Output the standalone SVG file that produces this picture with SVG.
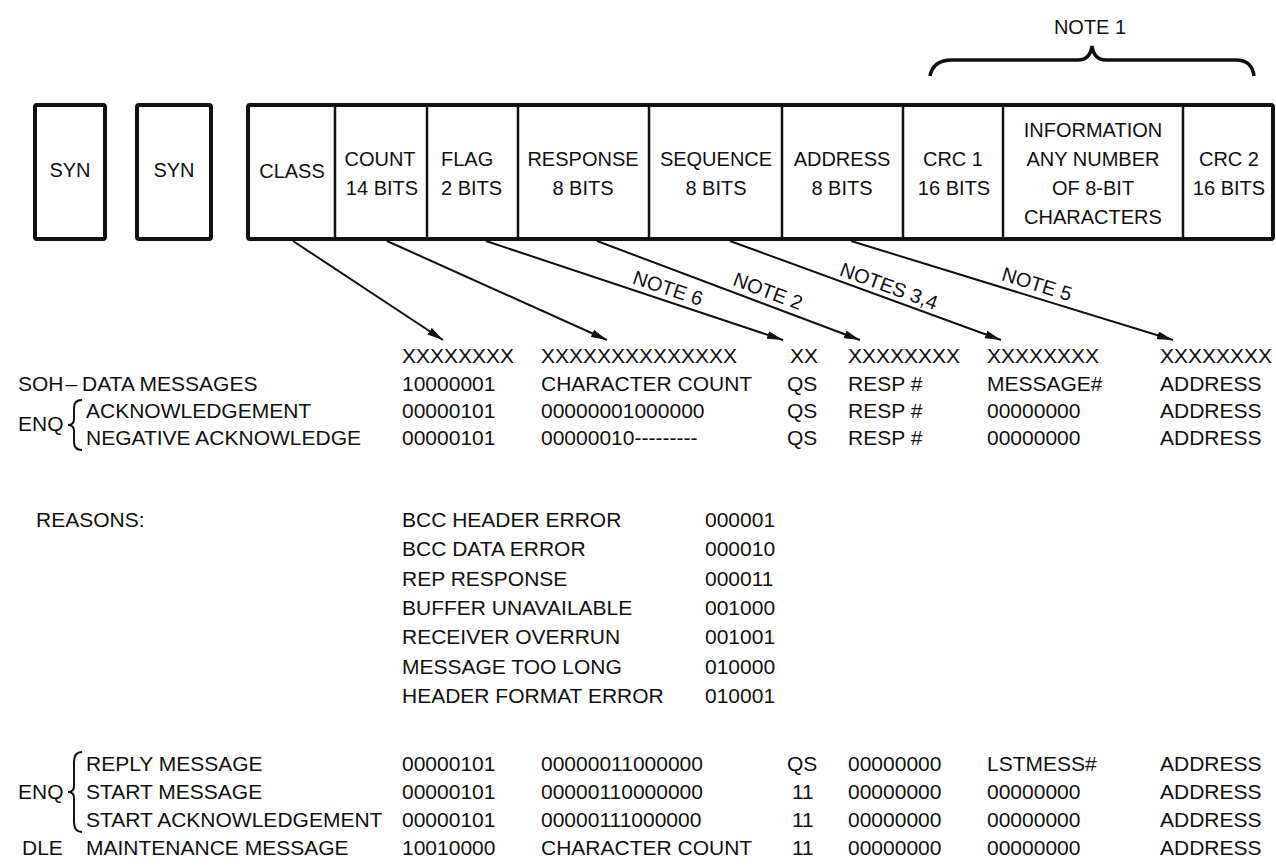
<svg xmlns="http://www.w3.org/2000/svg" width="1276" height="867" viewBox="0 0 1276 867">
<defs>
<marker id="ah" viewBox="0 0 16 8" refX="16" refY="4" markerWidth="16" markerHeight="8" markerUnits="userSpaceOnUse" orient="auto">
<path d="M0,0 L16,4 L0,8 Z" fill="#111"/>
</marker>
<style>
text{font-family:"Liberation Sans",Arial,Helvetica,sans-serif;fill:#111}
.box{fill:#fff;stroke:#111;stroke-width:4}
.div{stroke:#111;stroke-width:2.5}
.bl{font-size:20px;text-anchor:middle}
.t{font-size:21px}
.n{font-size:20px;text-anchor:middle}
.con{stroke:#111;stroke-width:2;fill:none}
.br{stroke:#111;stroke-width:2;fill:none}
</style>
</defs>
<rect width="1276" height="867" fill="#fff"/>

<g id="note1">
<text class="n" x="1090" y="34">NOTE 1</text>
<path d="M930,76 Q933,60 952,60 L1078,60 Q1090,60 1092,46 Q1094,60 1106,60 L1236,60 Q1252,60 1254,76" fill="none" stroke="#111" stroke-width="3.5"/>
</g>

<g id="syn1">
<rect class="box" x="35" y="105" width="70" height="134" rx="2"/>
<text class="bl" x="70" y="177">SYN</text>
</g>
<g id="syn2">
<rect class="box" x="137" y="105" width="74" height="134" rx="2"/>
<text class="bl" x="174" y="177">SYN</text>
</g>

<g id="frame">
<rect class="box" x="248" y="105" width="1025" height="134" rx="2"/>
<line class="div" x1="335" y1="105" x2="335" y2="239"/>
<line class="div" x1="427" y1="105" x2="427" y2="239"/>
<line class="div" x1="518" y1="105" x2="518" y2="239"/>
<line class="div" x1="649" y1="105" x2="649" y2="239"/>
<line class="div" x1="782" y1="105" x2="782" y2="239"/>
<line class="div" x1="903" y1="105" x2="903" y2="239"/>
<line class="div" x1="1003" y1="105" x2="1003" y2="239"/>
<line class="div" x1="1183" y1="105" x2="1183" y2="239"/>
</g>
<g id="class"><text class="bl" x="292" y="178">CLASS</text></g>
<g id="count"><text class="bl" x="380" y="166">COUNT</text><text class="bl" x="382" y="195">14 BITS</text></g>
<g id="flag"><text style="font-size:20px" x="441" y="166">FLAG</text><text style="font-size:20px" x="441" y="195">2 BITS</text></g>
<g id="response"><text class="bl" x="583" y="166">RESPONSE</text><text class="bl" x="583" y="195">8 BITS</text></g>
<g id="sequence"><text class="bl" x="716" y="166">SEQUENCE</text><text class="bl" x="716" y="195">8 BITS</text></g>
<g id="address"><text class="bl" x="842" y="166">ADDRESS</text><text class="bl" x="842" y="195">8 BITS</text></g>
<g id="crc1"><text class="bl" x="953" y="166">CRC 1</text><text class="bl" x="954" y="195">16 BITS</text></g>
<g id="info"><text class="bl" x="1093" y="137">INFORMATION</text><text class="bl" x="1093" y="166">ANY NUMBER</text><text class="bl" x="1093" y="195">OF 8-BIT</text><text class="bl" x="1093" y="224">CHARACTERS</text></g>
<g id="crc2"><text class="bl" x="1229" y="166">CRC 2</text><text class="bl" x="1229" y="195">16 BITS</text></g>

<g id="connectors">
<line class="con" x1="293" y1="241" x2="443" y2="340" marker-end="url(#ah)"/>
<line class="con" x1="387" y1="241" x2="607" y2="340" marker-end="url(#ah)"/>
<line class="con" x1="486" y1="241" x2="783" y2="340" marker-end="url(#ah)"/>
<line class="con" x1="597" y1="241" x2="860" y2="340" marker-end="url(#ah)"/>
<line class="con" x1="730" y1="241" x2="1001" y2="340" marker-end="url(#ah)"/>
<line class="con" x1="851" y1="241" x2="1173" y2="340" marker-end="url(#ah)"/>
<text class="n" x="668" y="295" transform="rotate(18.4 668 288)">NOTE 6</text>
<text class="n" x="768" y="298" transform="rotate(20.6 768 291)">NOTE 2</text>
<text class="n" x="889" y="293" transform="rotate(20.1 889 286)">NOTES 3,4</text>
<text class="n" x="1037" y="291" transform="rotate(17.1 1037 284)">NOTE 5</text>
</g>

<g id="table-top">
<text class="t" x="402" y="363">XXXXXXXX</text>
<text class="t" x="541" y="363">XXXXXXXXXXXXXX</text>
<text class="t" x="790" y="363">XX</text>
<text class="t" x="848" y="363">XXXXXXXX</text>
<text class="t" x="987" y="363">XXXXXXXX</text>
<text class="t" x="1160" y="363">XXXXXXXX</text>

<text class="t" x="18" y="391">SOH<tspan dx="2">–</tspan><tspan x="82">DATA MESSAGES</tspan></text>
<text class="t" x="402" y="391">10000001</text>
<text class="t" x="541" y="391">CHARACTER COUNT</text>
<text class="t" x="787" y="391">QS</text>
<text class="t" x="848" y="391">RESP #</text>
<text class="t" x="987" y="391">MESSAGE#</text>
<text class="t" x="1160" y="391">ADDRESS</text>

<text class="t" x="18" y="431">ENQ</text>
<path class="br" d="M82,400 Q74,400 74,408 L74,419 Q74,425 68,425 Q74,425 74,431 L74,442 Q74,450 82,450"/>
<text class="t" x="86" y="418">ACKNOWLEDGEMENT</text>
<text class="t" x="402" y="418">00000101</text>
<text class="t" x="541" y="418">00000001000000</text>
<text class="t" x="787" y="418">QS</text>
<text class="t" x="848" y="418">RESP #</text>
<text class="t" x="987" y="418">00000000</text>
<text class="t" x="1160" y="418">ADDRESS</text>

<text class="t" x="86" y="445">NEGATIVE ACKNOWLEDGE</text>
<text class="t" x="402" y="445">00000101</text>
<text class="t" x="541" y="445">00000010---------</text>
<text class="t" x="787" y="445">QS</text>
<text class="t" x="848" y="445">RESP #</text>
<text class="t" x="987" y="445">00000000</text>
<text class="t" x="1160" y="445">ADDRESS</text>
</g>

<g id="reasons">
<text class="t" x="36" y="527">REASONS:</text>
<text class="t" x="402" y="527">BCC HEADER ERROR</text><text class="t" x="705" y="527">000001</text>
<text class="t" x="402" y="556">BCC DATA ERROR</text><text class="t" x="705" y="556">000010</text>
<text class="t" x="402" y="586">REP RESPONSE</text><text class="t" x="705" y="586">000011</text>
<text class="t" x="402" y="615">BUFFER UNAVAILABLE</text><text class="t" x="705" y="615">001000</text>
<text class="t" x="402" y="644">RECEIVER OVERRUN</text><text class="t" x="705" y="644">001001</text>
<text class="t" x="402" y="674">MESSAGE TOO LONG</text><text class="t" x="705" y="674">010000</text>
<text class="t" x="402" y="703">HEADER FORMAT ERROR</text><text class="t" x="705" y="703">010001</text>
</g>

<g id="table-bottom">
<text class="t" x="18" y="799">ENQ</text>
<path class="br" d="M82,752 Q74,752 74,762 L74,786 Q74,792 68,792 Q74,792 74,798 L74,822 Q74,832 82,832"/>
<text class="t" x="86" y="771">REPLY MESSAGE</text>
<text class="t" x="402" y="771">00000101</text>
<text class="t" x="541" y="771">00000011000000</text>
<text class="t" x="787" y="771">QS</text>
<text class="t" x="848" y="771">00000000</text>
<text class="t" x="987" y="771">LSTMESS#</text>
<text class="t" x="1160" y="771">ADDRESS</text>

<text class="t" x="86" y="799">START MESSAGE</text>
<text class="t" x="402" y="799">00000101</text>
<text class="t" x="541" y="799">00000110000000</text>
<text class="t" x="792" y="799">11</text>
<text class="t" x="848" y="799">00000000</text>
<text class="t" x="987" y="799">00000000</text>
<text class="t" x="1160" y="799">ADDRESS</text>

<text class="t" x="86" y="827">START ACKNOWLEDGEMENT</text>
<text class="t" x="402" y="827">00000101</text>
<text class="t" x="541" y="827">00000111000000</text>
<text class="t" x="792" y="827">11</text>
<text class="t" x="848" y="827">00000000</text>
<text class="t" x="987" y="827">00000000</text>
<text class="t" x="1160" y="827">ADDRESS</text>

<text class="t" x="22" y="855">DLE</text>
<text class="t" x="86" y="855">MAINTENANCE MESSAGE</text>
<text class="t" x="402" y="855">10010000</text>
<text class="t" x="541" y="855">CHARACTER COUNT</text>
<text class="t" x="792" y="855">11</text>
<text class="t" x="848" y="855">00000000</text>
<text class="t" x="987" y="855">00000000</text>
<text class="t" x="1160" y="855">ADDRESS</text>
</g>
</svg>
